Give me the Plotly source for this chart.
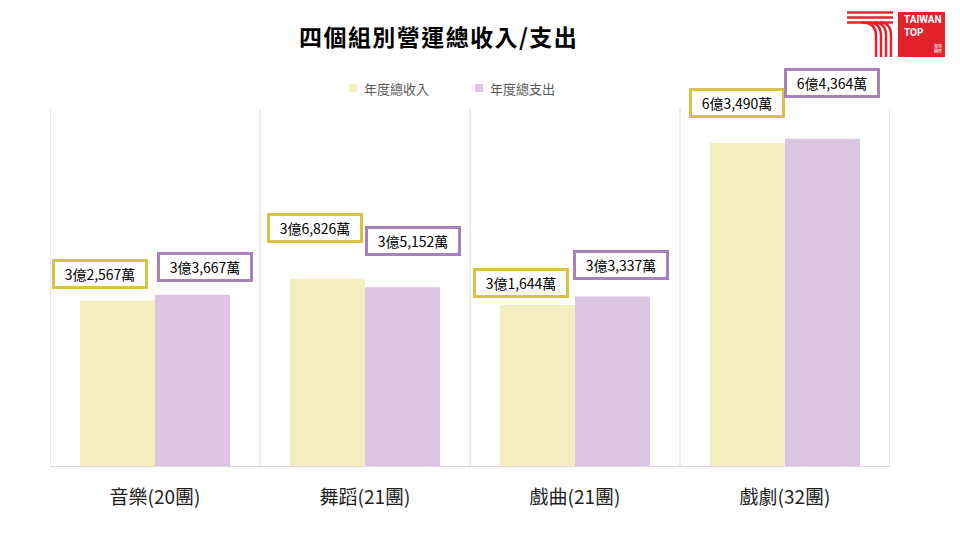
import plotly.graph_objects as go

# data (萬元)
groups = ['音樂(20團)', '舞蹈(21團)', '戲曲(21團)', '戲劇(32團)']
income = [32567, 36826, 31644, 63490]
expense = [33667, 35152, 33337, 64364]
series_names = ['年度總收入', '年度總支出']

colors = {'income': 'rgb(243,237,191)',
          'expense': 'rgb(220,197,225)',
          'income_line': 'rgb(214,195,66)',
          'expense_line': 'rgb(168,128,188)',
          'grid': 'rgb(217,217,217)',
          'red': 'rgb(226,35,45)'}

# label box offsets (px) relative to bar top / category centre
inc_dx = [-55, -50, -54, -48]
inc_dy = [26, 51, 22, 40]
exp_dx = [50, 48, 46, 47]
exp_dy = [28, 46, 31, 56]


def fmt(v):
    return f'{v // 10000}億{v % 10000:,}萬'


# plot area in px, used for placing the title, legend and logo
L, R, T, B = 50, 890, 109, 466


def px(x):
    return (x - L) / (R - L)


def py(y):
    return (B - y) / (B - T)


fig = go.Figure()
fig.add_trace(go.Bar(x=groups, y=income, name=series_names[0],
                     marker=dict(color=colors['income'], line=dict(width=0))))
fig.add_trace(go.Bar(x=groups, y=expense, name=series_names[1],
                     marker=dict(color=colors['expense'], line=dict(width=0))))

font_cjk = 'Noto Sans CJK TC'

for i, g in enumerate(groups):
    fig.add_annotation(x=g, y=income[i], text=fmt(income[i]), showarrow=False,
                       xshift=inc_dx[i], yshift=inc_dy[i],
                       font=dict(family=font_cjk, size=14, color='black'),
                       bgcolor='white', bordercolor=colors['income_line'],
                       borderwidth=3, borderpad=3, width=84, height=18)
    fig.add_annotation(x=g, y=expense[i], text=fmt(expense[i]), showarrow=False,
                       xshift=exp_dx[i], yshift=exp_dy[i],
                       font=dict(family=font_cjk, size=14, color='black'),
                       bgcolor='white', bordercolor=colors['expense_line'],
                       borderwidth=3, borderpad=3, width=84, height=18)

# category separators
shapes = []
for k in range(len(groups) + 1):
    shapes.append(dict(type='line', xref='x', yref='paper', x0=k - 0.5, x1=k - 0.5,
                       y0=0, y1=1, line=dict(color=colors['grid'], width=1), layer='below'))

# legend drawn by hand (small squares)
for name, col, sx in zip(series_names, [colors['income'], colors['expense']], [349, 475]):
    shapes.append(dict(type='rect', xref='paper', yref='paper', x0=px(sx), x1=px(sx + 8),
                       y0=py(92), y1=py(84), fillcolor=col, line=dict(width=0)))
    fig.add_annotation(xref='paper', yref='paper', x=px(sx + 13), y=py(88), text=name,
                       showarrow=False, xanchor='left', yanchor='middle',
                       font=dict(family=font_cjk, size=13, color='rgb(89,89,89)'))

# logo
shapes.append(dict(type='rect', xref='paper', yref='paper', x0=px(898), x1=px(945),
                   y0=py(57), y1=py(12), fillcolor=colors['red'], line=dict(width=0)))
for yy in [12.5, 17.5, 22.5]:
    shapes.append(dict(type='line', xref='paper', yref='paper', x0=px(847), x1=px(893),
                       y0=py(yy), y1=py(yy), line=dict(color=colors['red'], width=2.5)))
for xv, x0 in zip([876, 881, 886, 891], [862, 868, 874, 880]):
    path = (f'M {px(x0)},{py(22.5)} Q {px(xv)},{py(22.5)} {px(xv)},{py(36)} '
            f'L {px(xv)},{py(57)}')
    shapes.append(dict(type='path', xref='paper', yref='paper', path=path,
                       line=dict(color=colors['red'], width=2.5)))

fig.add_annotation(xref='paper', yref='paper', x=px(902), y=py(26), text='<b>TAIWAN<br>TOP</b>',
                   showarrow=False, xanchor='left', yanchor='middle', align='left',
                   font=dict(family='Roboto', size=10, color='white'))
fig.add_annotation(xref='paper', yref='paper', x=px(932), y=py(49), text='臺灣<br>國際',
                   showarrow=False, xanchor='left', yanchor='middle', align='left',
                   font=dict(family=font_cjk, size=4, color='white'))

# title (hair spaces give the wide letter spacing of the original)
title = '\u200a'.join('四個組別營運總收入/支出')
fig.add_annotation(xref='paper', yref='paper', x=px(438), y=py(36), text=f'<b>{title}</b>',
                   showarrow=False, xanchor='center', yanchor='middle',
                   font=dict(family=font_cjk, size=23, color='black'))

fig.update_layout(
    width=960, height=540,
    paper_bgcolor='white', plot_bgcolor='white',
    margin=dict(l=L, r=960 - R, t=T, b=540 - B),
    barmode='group', bargap=0.286, bargroupgap=0,
    shapes=shapes,
    showlegend=False,
    font=dict(family=font_cjk),
)
fig.update_xaxes(showgrid=False, showline=True, linecolor=colors['grid'], linewidth=1,
                 ticks='', tickfont=dict(family=font_cjk, size=19, color='rgb(30,30,30)'),
                 range=[-0.5, 3.5], fixedrange=True, ticklabelstandoff=14)
fig.update_yaxes(range=[0, 70200], showgrid=False, showticklabels=False, zeroline=False,
                 fixedrange=True)

fig.write_html('out.html', config={'displayModeBar': False},
               post_script="document.body.style.margin='0';")
